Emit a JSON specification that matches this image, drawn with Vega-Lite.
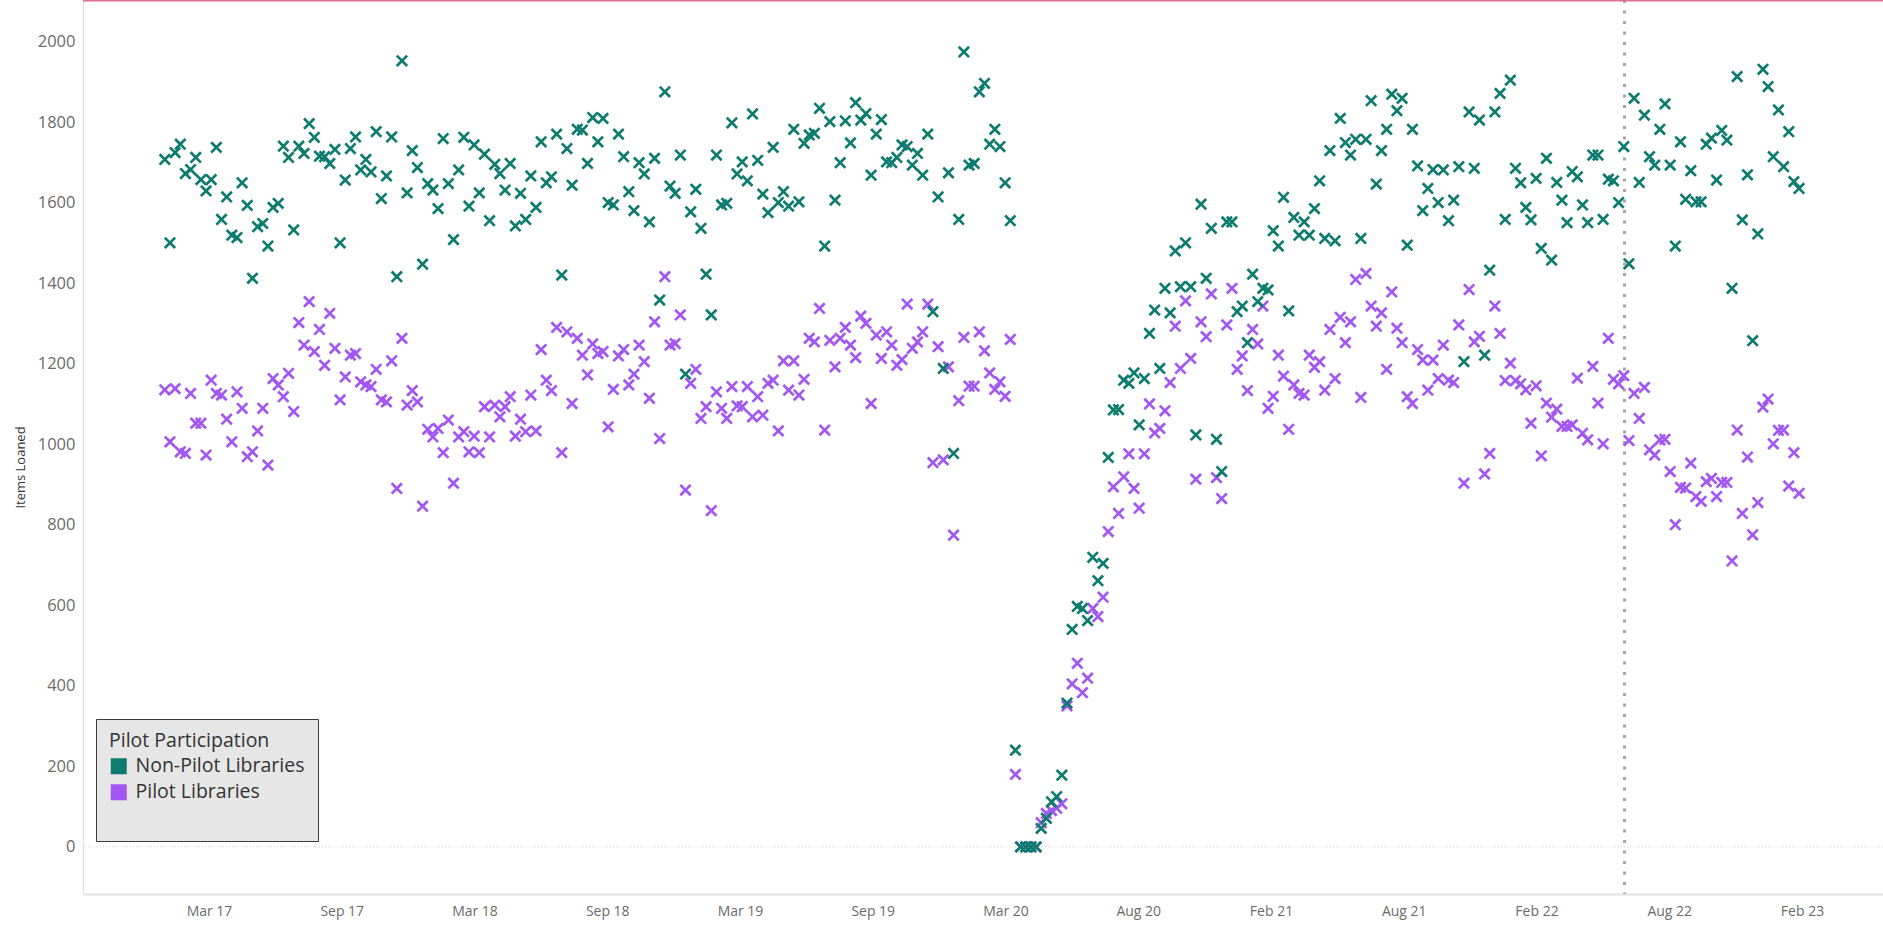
{
  "$schema": "https://vega.github.io/schema/vega-lite/v6.json",
  "width": 1800,
  "height": 894,
  "autosize": {"type": "none"},
  "padding": {"left": 83, "top": 0, "right": 0, "bottom": 36},
  "background": "white",
  "config": {"view": {"stroke": null}, "font": "Open Sans"},
  "datasets": {
    "w": [
{"d":"2016-12-31","n":1707,"p":1135},{"d":"2017-01-07","n":1500,"p":1006},{"d":"2017-01-14","n":1724,"p":1138},{"d":"2017-01-21","n":1745,"p":981},{"d":"2017-01-28","n":1672,"p":977},{"d":"2017-02-04","n":1682,"p":1126},{"d":"2017-02-11","n":1712,"p":1052},{"d":"2017-02-18","n":1657,"p":1052},{"d":"2017-02-25","n":1629,"p":973},{"d":"2017-03-04","n":1657,"p":1159},
{"d":"2017-03-11","n":1737,"p":1126},{"d":"2017-03-18","n":1558,"p":1122},{"d":"2017-03-25","n":1614,"p":1062},{"d":"2017-04-01","n":1519,"p":1006},{"d":"2017-04-08","n":1513,"p":1130},{"d":"2017-04-15","n":1649,"p":1089},{"d":"2017-04-22","n":1593,"p":969},{"d":"2017-04-29","n":1412,"p":981},{"d":"2017-05-06","n":1540,"p":1033},{"d":"2017-05-13","n":1548,"p":1089},
{"d":"2017-05-20","n":1492,"p":948},{"d":"2017-05-27","n":1588,"p":1163},{"d":"2017-06-03","n":1598,"p":1147},{"d":"2017-06-10","n":1740,"p":1118},{"d":"2017-06-17","n":1712,"p":1176},{"d":"2017-06-24","n":1532,"p":1081},{"d":"2017-07-01","n":1740,"p":1302},{"d":"2017-07-08","n":1722,"p":1246},{"d":"2017-07-15","n":1796,"p":1354},{"d":"2017-07-22","n":1762,"p":1230},
{"d":"2017-07-29","n":1715,"p":1285},{"d":"2017-08-05","n":1714,"p":1196},{"d":"2017-08-12","n":1697,"p":1325},{"d":"2017-08-19","n":1732,"p":1238},{"d":"2017-08-26","n":1500,"p":1110},{"d":"2017-09-02","n":1656,"p":1167},{"d":"2017-09-09","n":1734,"p":1221},{"d":"2017-09-16","n":1763,"p":1225},{"d":"2017-09-23","n":1681,"p":1155},{"d":"2017-09-30","n":1707,"p":1147},
{"d":"2017-10-07","n":1676,"p":1143},{"d":"2017-10-14","n":1776,"p":1186},{"d":"2017-10-21","n":1610,"p":1110},{"d":"2017-10-28","n":1666,"p":1105},{"d":"2017-11-04","n":1763,"p":1207},{"d":"2017-11-11","n":1416,"p":890},{"d":"2017-11-18","n":1952,"p":1263},{"d":"2017-11-25","n":1624,"p":1097},{"d":"2017-12-02","n":1729,"p":1133},{"d":"2017-12-09","n":1687,"p":1105},
{"d":"2017-12-16","n":1447,"p":846},{"d":"2017-12-23","n":1647,"p":1037},{"d":"2017-12-30","n":1631,"p":1018},{"d":"2018-01-06","n":1585,"p":1039},{"d":"2018-01-13","n":1759,"p":979},{"d":"2018-01-20","n":1647,"p":1060},{"d":"2018-01-27","n":1508,"p":903},{"d":"2018-02-03","n":1681,"p":1018},{"d":"2018-02-10","n":1762,"p":1031},{"d":"2018-02-17","n":1591,"p":981},
{"d":"2018-02-24","n":1743,"p":1020},{"d":"2018-03-03","n":1624,"p":979},{"d":"2018-03-10","n":1720,"p":1093},{"d":"2018-03-17","n":1555,"p":1018},{"d":"2018-03-24","n":1695,"p":1097},{"d":"2018-03-31","n":1672,"p":1068},{"d":"2018-04-07","n":1631,"p":1093},{"d":"2018-04-14","n":1697,"p":1118},{"d":"2018-04-21","n":1542,"p":1020},{"d":"2018-04-28","n":1623,"p":1062},
{"d":"2018-05-05","n":1558,"p":1031},{"d":"2018-05-12","n":1666,"p":1122},{"d":"2018-05-19","n":1588,"p":1033},{"d":"2018-05-26","n":1751,"p":1235},{"d":"2018-06-02","n":1649,"p":1159},{"d":"2018-06-09","n":1664,"p":1133},{"d":"2018-06-16","n":1770,"p":1290},{"d":"2018-06-23","n":1420,"p":979},{"d":"2018-06-30","n":1734,"p":1279},{"d":"2018-07-07","n":1643,"p":1101},
{"d":"2018-07-14","n":1782,"p":1263},{"d":"2018-07-21","n":1780,"p":1221},{"d":"2018-07-28","n":1697,"p":1172},{"d":"2018-08-04","n":1811,"p":1249},{"d":"2018-08-11","n":1751,"p":1225},{"d":"2018-08-18","n":1809,"p":1230},{"d":"2018-08-25","n":1600,"p":1043},{"d":"2018-09-01","n":1594,"p":1136},{"d":"2018-09-08","n":1770,"p":1219},{"d":"2018-09-15","n":1714,"p":1235},
{"d":"2018-09-22","n":1627,"p":1147},{"d":"2018-09-29","n":1580,"p":1174},{"d":"2018-10-06","n":1699,"p":1246},{"d":"2018-10-13","n":1671,"p":1205},{"d":"2018-10-20","n":1552,"p":1114},{"d":"2018-10-27","n":1710,"p":1304},{"d":"2018-11-03","n":1358,"p":1014},{"d":"2018-11-10","n":1875,"p":1416},{"d":"2018-11-17","n":1641,"p":1246},{"d":"2018-11-24","n":1623,"p":1250},
{"d":"2018-12-01","n":1718,"p":1321},{"d":"2018-12-08","n":1174,"p":886},{"d":"2018-12-15","n":1577,"p":1151},{"d":"2018-12-22","n":1633,"p":1186},{"d":"2018-12-29","n":1536,"p":1064},{"d":"2019-01-05","n":1422,"p":1093},{"d":"2019-01-12","n":1321,"p":835},{"d":"2019-01-19","n":1718,"p":1130},{"d":"2019-01-26","n":1594,"p":1089},{"d":"2019-02-02","n":1598,"p":1064},
{"d":"2019-02-09","n":1798,"p":1143},{"d":"2019-02-16","n":1671,"p":1095},{"d":"2019-02-23","n":1701,"p":1093},{"d":"2019-03-02","n":1654,"p":1143},{"d":"2019-03-09","n":1820,"p":1068},{"d":"2019-03-16","n":1705,"p":1118},{"d":"2019-03-23","n":1621,"p":1072},{"d":"2019-03-30","n":1575,"p":1151},{"d":"2019-04-06","n":1737,"p":1159},{"d":"2019-04-13","n":1600,"p":1033},
{"d":"2019-04-20","n":1627,"p":1207},{"d":"2019-04-27","n":1591,"p":1134},{"d":"2019-05-04","n":1782,"p":1207},{"d":"2019-05-11","n":1602,"p":1122},{"d":"2019-05-18","n":1747,"p":1161},{"d":"2019-05-25","n":1768,"p":1263},{"d":"2019-06-01","n":1772,"p":1254},{"d":"2019-06-08","n":1834,"p":1337},{"d":"2019-06-15","n":1492,"p":1035},{"d":"2019-06-22","n":1801,"p":1258},
{"d":"2019-06-29","n":1606,"p":1192},{"d":"2019-07-06","n":1699,"p":1263},{"d":"2019-07-13","n":1803,"p":1290},{"d":"2019-07-20","n":1748,"p":1246},{"d":"2019-07-27","n":1848,"p":1215},{"d":"2019-08-03","n":1805,"p":1318},{"d":"2019-08-10","n":1821,"p":1300},{"d":"2019-08-17","n":1668,"p":1101},{"d":"2019-08-24","n":1770,"p":1271},{"d":"2019-08-31","n":1806,"p":1213},
{"d":"2019-09-07","n":1701,"p":1279},{"d":"2019-09-14","n":1699,"p":1246},{"d":"2019-09-21","n":1712,"p":1196},{"d":"2019-09-28","n":1743,"p":1210},{"d":"2019-10-05","n":1739,"p":1348},{"d":"2019-10-12","n":1693,"p":1238},{"d":"2019-10-19","n":1722,"p":1254},{"d":"2019-10-26","n":1668,"p":1279},{"d":"2019-11-02","n":1770,"p":1348},{"d":"2019-11-09","n":1329,"p":954},
{"d":"2019-11-16","n":1614,"p":1242},{"d":"2019-11-23","n":1188,"p":961},{"d":"2019-11-30","n":1674,"p":1192},{"d":"2019-12-07","n":977,"p":774},{"d":"2019-12-14","n":1558,"p":1108},{"d":"2019-12-21","n":1974,"p":1265},{"d":"2019-12-28","n":1693,"p":1144},{"d":"2020-01-04","n":1697,"p":1144},{"d":"2020-01-11","n":1875,"p":1279},{"d":"2020-01-18","n":1896,"p":1232},
{"d":"2020-01-25","n":1745,"p":1177},{"d":"2020-02-01","n":1782,"p":1136},{"d":"2020-02-08","n":1739,"p":1155},{"d":"2020-02-15","n":1649,"p":1119},{"d":"2020-02-22","n":1555,"p":1260},{"d":"2020-02-29","n":240,"p":180},{"d":"2020-03-07","n":0,"p":0},{"d":"2020-03-14","n":0,"p":0},{"d":"2020-03-21","n":0,"p":0},{"d":"2020-03-28","n":0,"p":0},
{"d":"2020-04-04","n":46,"p":60},{"d":"2020-04-11","n":71,"p":83},{"d":"2020-04-18","n":112,"p":90},{"d":"2020-04-25","n":125,"p":96},{"d":"2020-05-02","n":178,"p":107},{"d":"2020-05-09","n":357,"p":350},{"d":"2020-05-16","n":540,"p":405},{"d":"2020-05-23","n":597,"p":456},{"d":"2020-05-30","n":592,"p":383},{"d":"2020-06-06","n":562,"p":419},
{"d":"2020-06-13","n":719,"p":592},{"d":"2020-06-20","n":661,"p":572},{"d":"2020-06-27","n":704,"p":620},{"d":"2020-07-04","n":967,"p":783},{"d":"2020-07-11","n":1085,"p":894},{"d":"2020-07-18","n":1086,"p":828},{"d":"2020-07-25","n":1159,"p":919},{"d":"2020-08-01","n":1151,"p":976},{"d":"2020-08-08","n":1177,"p":890},{"d":"2020-08-15","n":1048,"p":841},
{"d":"2020-08-22","n":1163,"p":976},{"d":"2020-08-29","n":1275,"p":1100},{"d":"2020-09-05","n":1333,"p":1028},{"d":"2020-09-12","n":1188,"p":1039},{"d":"2020-09-19","n":1387,"p":1083},{"d":"2020-09-26","n":1326,"p":1153},{"d":"2020-10-03","n":1480,"p":1293},{"d":"2020-10-10","n":1391,"p":1188},{"d":"2020-10-17","n":1500,"p":1356},{"d":"2020-10-24","n":1391,"p":1213},
{"d":"2020-10-31","n":1023,"p":913},{"d":"2020-11-07","n":1596,"p":1304},{"d":"2020-11-14","n":1412,"p":1267},{"d":"2020-11-21","n":1536,"p":1373},{"d":"2020-11-28","n":1012,"p":917},{"d":"2020-12-05","n":932,"p":865},{"d":"2020-12-12","n":1552,"p":1296},{"d":"2020-12-19","n":1552,"p":1387},{"d":"2020-12-26","n":1329,"p":1186},{"d":"2021-01-02","n":1343,"p":1219},
{"d":"2021-01-09","n":1252,"p":1133},{"d":"2021-01-16","n":1422,"p":1285},{"d":"2021-01-23","n":1354,"p":1249},{"d":"2021-01-30","n":1387,"p":1343},{"d":"2021-02-06","n":1383,"p":1089},{"d":"2021-02-13","n":1530,"p":1119},{"d":"2021-02-20","n":1492,"p":1221},{"d":"2021-02-27","n":1613,"p":1169},{"d":"2021-03-06","n":1331,"p":1037},{"d":"2021-03-13","n":1563,"p":1147},
{"d":"2021-03-20","n":1519,"p":1126},{"d":"2021-03-27","n":1552,"p":1122},{"d":"2021-04-03","n":1519,"p":1221},{"d":"2021-04-10","n":1585,"p":1191},{"d":"2021-04-17","n":1654,"p":1205},{"d":"2021-04-24","n":1511,"p":1134},{"d":"2021-05-01","n":1729,"p":1285},{"d":"2021-05-08","n":1505,"p":1163},{"d":"2021-05-15","n":1809,"p":1315},{"d":"2021-05-22","n":1749,"p":1252},
{"d":"2021-05-29","n":1718,"p":1304},{"d":"2021-06-05","n":1757,"p":1409},{"d":"2021-06-12","n":1511,"p":1116},{"d":"2021-06-19","n":1757,"p":1424},{"d":"2021-06-26","n":1853,"p":1343},{"d":"2021-07-03","n":1646,"p":1293},{"d":"2021-07-10","n":1729,"p":1326},{"d":"2021-07-17","n":1782,"p":1186},{"d":"2021-07-24","n":1869,"p":1378},{"d":"2021-07-31","n":1828,"p":1288},
{"d":"2021-08-07","n":1859,"p":1252},{"d":"2021-08-14","n":1494,"p":1118},{"d":"2021-08-21","n":1782,"p":1101},{"d":"2021-08-28","n":1691,"p":1235},{"d":"2021-09-04","n":1580,"p":1209},{"d":"2021-09-11","n":1635,"p":1134},{"d":"2021-09-18","n":1682,"p":1209},{"d":"2021-09-25","n":1600,"p":1163},{"d":"2021-10-02","n":1681,"p":1246},{"d":"2021-10-09","n":1555,"p":1159},
{"d":"2021-10-16","n":1606,"p":1153},{"d":"2021-10-23","n":1689,"p":1296},{"d":"2021-10-30","n":1205,"p":903},{"d":"2021-11-06","n":1825,"p":1384},{"d":"2021-11-13","n":1685,"p":1254},{"d":"2021-11-20","n":1805,"p":1268},{"d":"2021-11-27","n":1221,"p":926},{"d":"2021-12-04","n":1432,"p":977},{"d":"2021-12-11","n":1825,"p":1343},{"d":"2021-12-18","n":1871,"p":1275},
{"d":"2021-12-25","n":1558,"p":1158},{"d":"2022-01-01","n":1904,"p":1201},{"d":"2022-01-08","n":1685,"p":1158},{"d":"2022-01-15","n":1649,"p":1150},{"d":"2022-01-22","n":1588,"p":1135},{"d":"2022-01-29","n":1557,"p":1052},{"d":"2022-02-05","n":1660,"p":1145},{"d":"2022-02-12","n":1486,"p":971},{"d":"2022-02-19","n":1710,"p":1102},{"d":"2022-02-26","n":1457,"p":1067},
{"d":"2022-03-05","n":1650,"p":1087},{"d":"2022-03-12","n":1606,"p":1044},{"d":"2022-03-19","n":1550,"p":1044},{"d":"2022-03-26","n":1677,"p":1048},{"d":"2022-04-02","n":1664,"p":1164},{"d":"2022-04-09","n":1594,"p":1027},{"d":"2022-04-16","n":1550,"p":1011},{"d":"2022-04-23","n":1718,"p":1193},{"d":"2022-04-30","n":1718,"p":1102},{"d":"2022-05-07","n":1558,"p":1001},
{"d":"2022-05-14","n":1658,"p":1263},{"d":"2022-05-21","n":1654,"p":1161},{"d":"2022-05-28","n":1600,"p":1150},{"d":"2022-06-04","n":1739,"p":1170},{"d":"2022-06-11","n":1448,"p":1009},{"d":"2022-06-18","n":1859,"p":1126},{"d":"2022-06-25","n":1650,"p":1064},{"d":"2022-07-02","n":1817,"p":1141},{"d":"2022-07-09","n":1714,"p":986},{"d":"2022-07-16","n":1693,"p":973},
{"d":"2022-07-23","n":1782,"p":1011},{"d":"2022-07-30","n":1845,"p":1012},{"d":"2022-08-06","n":1693,"p":932},{"d":"2022-08-13","n":1492,"p":800},{"d":"2022-08-20","n":1751,"p":893},{"d":"2022-08-27","n":1608,"p":891},{"d":"2022-09-03","n":1679,"p":953},{"d":"2022-09-10","n":1602,"p":870},{"d":"2022-09-17","n":1602,"p":858},{"d":"2022-09-24","n":1745,"p":907},
{"d":"2022-10-01","n":1760,"p":915},{"d":"2022-10-08","n":1656,"p":870},{"d":"2022-10-15","n":1779,"p":905},{"d":"2022-10-22","n":1755,"p":905},{"d":"2022-10-29","n":1387,"p":710},{"d":"2022-11-05","n":1913,"p":1035},{"d":"2022-11-12","n":1557,"p":828},{"d":"2022-11-19","n":1669,"p":968},{"d":"2022-11-26","n":1257,"p":775},{"d":"2022-12-03","n":1522,"p":855},
{"d":"2022-12-10","n":1931,"p":1092},{"d":"2022-12-17","n":1888,"p":1112},{"d":"2022-12-24","n":1714,"p":1001},{"d":"2022-12-31","n":1830,"p":1034},{"d":"2023-01-07","n":1689,"p":1035},{"d":"2023-01-14","n":1776,"p":896},{"d":"2023-01-21","n":1652,"p":979},{"d":"2023-01-28","n":1635,"p":878}
    ]
  },
  "layer": [
    {
      "data": {"values": [{}]},
      "mark": {"type": "rule", "color": "#cfcfcf", "strokeDash": [1, 2], "strokeWidth": 1},
      "encoding": {"y": {"datum": 0, "type": "quantitative"}}
    },
    {
      "data": {"values": [{}]},
      "mark": {"type": "rule", "color": "#a6a6a6", "strokeDash": [3, 7.5], "strokeWidth": 3},
      "encoding": {"x": {"datum": {"year": 2022, "month": 6, "date": 5}, "type": "temporal"}}
    },
    {
      "data": {"values": [{}]},
      "mark": {"type": "rule", "color": "#dc6f93", "strokeWidth": 3},
      "encoding": {"y": {"datum": 2103, "type": "quantitative"}}
    },
    {
      "data": {"name": "w"},
      "transform": [{"fold": ["n", "p"], "as": ["k", "v"]}],
      "mark": {
        "type": "point",
        "shape": "M-1,-0.69L-0.69,-1L0,-0.31L0.69,-1L1,-0.69L0.31,0L1,0.69L0.69,1L0,0.31L-0.69,1L-1,0.69L-0.31,0Z",
        "filled": true, "size": 150, "opacity": 1, "strokeWidth": 0
      },
      "encoding": {
        "x": {
          "field": "d", "type": "temporal",
          "scale": {"domain": [1473544678000, 1684712135000]},
          "axis": {
            "title": null, "grid": false, "ticks": false,
            "domainColor": "#e3e3e3", "domainWidth": 2,
            "labelColor": "#6b6b6b", "labelFontSize": 14, "labelPadding": 10,
            "values": [1488326400000, 1503900000000, 1519473600000, 1535047200000, 1550620800000, 1566194400000, 1581768000000, 1597341600000, 1612915200000, 1628488800000, 1644062400000, 1659636000000, 1675209600000],
            "labelExpr": "['Mar 17','Sep 17','Mar 18','Sep 18','Mar 19','Sep 19','Mar 20','Aug 20','Feb 21','Aug 21','Feb 22','Aug 22','Feb 23'][round((datum.value - 1488326400000) / 15573600000)]"
          }
        },
        "y": {
          "field": "v", "type": "quantitative",
          "scale": {"domain": [-117, 2103], "nice": false, "zero": false},
          "axis": {
            "title": "Items Loaned", "grid": false, "ticks": false, "format": "d",
            "values": [0, 200, 400, 600, 800, 1000, 1200, 1400, 1600, 1800, 2000],
            "domainColor": "#e3e3e3", "domainWidth": 1.5,
            "labelColor": "#6b6b6b", "labelFontSize": 16.5, "labelPadding": 8,
            "titleColor": "#333333", "titleFontSize": 13, "titleFontWeight": "normal",
            "titleX": -63, "titleY": 467, "titleAngle": -90, "titleBaseline": "middle", "titleAlign": "center"
          }
        },
        "color": {
          "field": "k", "type": "nominal",
          "scale": {"domain": ["n", "p", "z"], "range": ["#0e7b6f", "#a257f2", "rgba(0,0,0,0)"]},
          "legend": {
            "title": "Pilot Participation", "orient": "none", "legendX": 13, "legendY": 719,
            "fillColor": "#e6e6e6", "strokeColor": "#3a3a3a", "padding": 13,
            "titleFontSize": 19.5, "titleFontWeight": "normal", "titleColor": "#333333", "titlePadding": 5,
            "labelFontSize": 19.5, "labelColor": "#333333", "labelOffset": 7, "labelLimit": 500,
            "labelExpr": "datum.value == 'n' ? 'Non-Pilot Libraries' : datum.value == 'p' ? 'Pilot Libraries' : ''",
            "symbolType": "square", "symbolSize": 256, "symbolStrokeWidth": 0, "rowPadding": 5
          }
        },
        "order": {"field": "k", "sort": "descending"}
      }
    }
  ]
}
